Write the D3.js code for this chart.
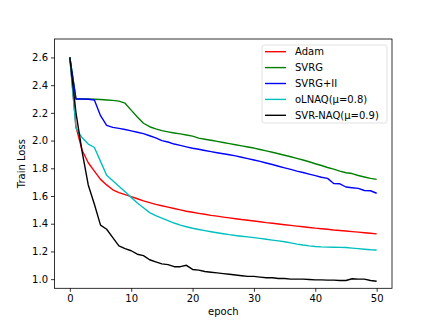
<!DOCTYPE html>
<html>
<head>
<meta charset="utf-8">
<script src="https://d3js.org/d3.v7.min.js"></script>
<style>
  body { margin: 0; background: #fff; }
  text { font-family: "DejaVu Sans", sans-serif; }
</style>
</head>
<body>
<div id="chart"></div>
<script>
// epochs 0..50
const epochs = d3.range(0, 51);

const adam = [2.6, 2.1, 1.93, 1.84, 1.78, 1.72, 1.68, 1.645, 1.625, 1.61,
  1.595, 1.58, 1.565, 1.552, 1.54, 1.53, 1.52, 1.51, 1.5, 1.49,
  1.483, 1.475, 1.468, 1.46, 1.455, 1.448, 1.442, 1.436, 1.43, 1.425,
  1.42, 1.414, 1.408, 1.403, 1.398, 1.393, 1.388, 1.383, 1.378, 1.373,
  1.368, 1.364, 1.36, 1.355, 1.351, 1.347, 1.343, 1.339, 1.335, 1.331, 1.327];

const svrg = [2.6, 2.3, 2.3, 2.3, 2.298, 2.296, 2.293, 2.29, 2.285, 2.27,
  2.22, 2.17, 2.125, 2.1, 2.085, 2.072, 2.063, 2.055, 2.048, 2.04,
  2.032, 2.018, 2.01, 2.002, 1.994, 1.986, 1.978, 1.97, 1.962, 1.954,
  1.946, 1.936, 1.926, 1.916, 1.905, 1.894, 1.883, 1.872, 1.86, 1.847,
  1.833, 1.82, 1.806, 1.794, 1.78, 1.768, 1.762, 1.748, 1.737, 1.727, 1.72];

const svrgII = [2.6, 2.3, 2.3, 2.298, 2.293, 2.18, 2.11, 2.095, 2.088, 2.08,
  2.07, 2.06, 2.05, 2.035, 2.02, 2.0, 1.99, 1.975, 1.965, 1.955,
  1.945, 1.937, 1.928, 1.92, 1.912, 1.905, 1.898, 1.89, 1.88, 1.87,
  1.86, 1.85, 1.838, 1.827, 1.815, 1.803, 1.792, 1.78, 1.77, 1.758,
  1.747, 1.735, 1.727, 1.69, 1.688, 1.665, 1.66, 1.655, 1.64, 1.638, 1.62];

const olnaq = [2.6, 2.09, 2.02, 1.975, 1.95, 1.85, 1.75, 1.71, 1.67, 1.63,
  1.59, 1.55, 1.515, 1.48, 1.458, 1.44, 1.422, 1.405, 1.39, 1.378,
  1.367, 1.358, 1.35, 1.342, 1.335, 1.328, 1.321, 1.315, 1.31, 1.305,
  1.3, 1.294, 1.288, 1.282, 1.276, 1.27, 1.262, 1.253, 1.246, 1.24,
  1.236, 1.233, 1.231, 1.23, 1.229, 1.228, 1.224, 1.22, 1.216, 1.212, 1.21];

const svrNaq = [2.6, 2.2, 1.92, 1.68, 1.54, 1.39, 1.36, 1.3, 1.24, 1.22,
  1.205, 1.18, 1.17, 1.14, 1.125, 1.11, 1.105, 1.09, 1.09, 1.1,
  1.07, 1.065, 1.055, 1.05, 1.045, 1.04, 1.035, 1.03, 1.025, 1.02,
  1.02, 1.015, 1.01, 1.01, 1.005, 1.005, 1.0, 1.0, 1.0, 0.998,
  0.995, 0.995, 0.993, 0.993, 0.99, 0.99, 1.003, 1.0, 1.0, 0.99, 0.985];

const seriesNames = ["Adam", "SVRG", "SVRG+II", "oLNAQ(\u03bc=0.8)", "SVR-NAQ(\u03bc=0.9)"];
const seriesValues = [adam, svrg, svrgII, olnaq, svrNaq];
const seriesColors = ["#ff0000", "#008000", "#0000ff", "#00bfbf", "#000000"];

const xTicks = [0, 10, 20, 30, 40, 50];
const yTicks = [1.0, 1.2, 1.4, 1.6, 1.8, 2.0, 2.2, 2.4, 2.6];

const width = 436, height = 324;
const mLeft = 54.5, mRight = 392, mTop = 39, mBottom = 288.3;
const fs = 10;

const svg = d3.select("#chart").append("svg")
  .attr("width", width).attr("height", height);

const x = d3.scaleLinear().domain([-2.5, 52.5]).range([mLeft, mRight]);
const y = d3.scaleLinear().domain([0.934, 2.733]).range([mBottom, mTop]);

const line = d3.line()
  .x((d, i) => x(epochs[i]))
  .y(d => y(d));

const plot = svg.append("g");
plot.append("defs").append("clipPath").attr("id", "clip")
  .append("rect").attr("x", mLeft).attr("y", mTop)
  .attr("width", mRight - mLeft).attr("height", mBottom - mTop);

plot.append("g").attr("clip-path", "url(#clip)")
  .selectAll("path")
  .data(seriesValues)
  .enter()
  .append("path")
  .attr("d", d => line(d))
  .attr("fill", "none")
  .attr("stroke", (d, i) => seriesColors[i])
  .attr("stroke-width", 1.4)
  .attr("stroke-linejoin", "round");

// axes
const xAxis = svg.append("g")
  .attr("transform", `translate(0,${mBottom})`)
  .call(d3.axisBottom(x).tickValues(xTicks).tickSize(3.5).tickPadding(3).tickFormat(d3.format("d")));
const yAxis = svg.append("g")
  .attr("transform", `translate(${mLeft},0)`)
  .call(d3.axisLeft(y).tickValues(yTicks).tickSize(3.5).tickPadding(3).tickFormat(d3.format(".1f")));

[xAxis, yAxis].forEach(a => {
  a.select(".domain").remove();
  a.selectAll("text").attr("font-size", fs).attr("fill", "#000")
    .attr("font-family", "DejaVu Sans, sans-serif");
  a.selectAll("line").attr("stroke", "#000").attr("stroke-width", 0.8);
});

svg.append("rect")
  .attr("x", mLeft).attr("y", mTop)
  .attr("width", mRight - mLeft).attr("height", mBottom - mTop)
  .attr("fill", "none").attr("stroke", "#000").attr("stroke-width", 0.8);

svg.append("text")
  .attr("x", (mLeft + mRight) / 2).attr("y", 315)
  .attr("text-anchor", "middle").attr("font-size", fs)
  .text("epoch");

svg.append("text")
  .attr("transform", `translate(25,${(mTop + mBottom) / 2}) rotate(-90)`)
  .attr("text-anchor", "middle").attr("font-size", fs)
  .text("Train Loss");

// legend
const lg = svg.append("g");
lg.append("rect")
  .attr("x", 262).attr("y", 45)
  .attr("width", 125).attr("height", 78)
  .attr("rx", 2)
  .attr("fill", "#fff").attr("fill-opacity", 0.8)
  .attr("stroke", "#d9d9d9").attr("stroke-width", 0.8);

const items = lg.selectAll("g.item")
  .data(seriesNames)
  .enter()
  .append("g")
  .attr("transform", (d, i) => `translate(0,${51.7 + i * 15.9})`);
items.append("line")
  .attr("x1", 265).attr("x2", 286)
  .attr("stroke", (d, i) => seriesColors[i])
  .attr("stroke-width", 1.4);
items.append("text")
  .attr("x", 295).attr("dy", "0.35em")
  .attr("font-size", fs)
  .text(d => d);
</script>
</body>
</html>
